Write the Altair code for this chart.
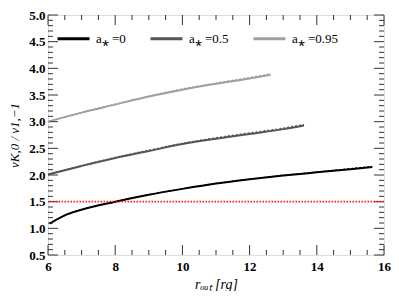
import altair as alt
import pandas as pd

# a*=0 (black)
x0 = [6.05, 6.6, 7.0, 8.0, 9.0, 10.0, 11.0, 12.0, 13.0, 14.0, 15.0, 15.65]
y0 = [1.09, 1.27, 1.35, 1.50, 1.63, 1.74, 1.84, 1.92, 1.99, 2.05, 2.11, 2.15]
y0d = [1.09, 1.27, 1.35, 1.50, 1.63, 1.74, 1.84, 1.92, 1.995, 2.055, 2.12, 2.16]
# a*=0.5 (dark gray)
x1 = [6.0, 7.0, 8.0, 9.0, 10.0, 11.0, 12.0, 13.0, 13.62]
y1 = [2.01, 2.17, 2.32, 2.45, 2.58, 2.68, 2.77, 2.86, 2.93]
y1d = [2.01, 2.175, 2.33, 2.465, 2.595, 2.70, 2.79, 2.88, 2.95]
# a*=0.95 (light gray)
x2 = [6.0, 7.0, 8.0, 9.0, 10.0, 11.0, 12.0, 12.63]
y2 = [3.00, 3.17, 3.32, 3.47, 3.60, 3.71, 3.81, 3.88]
y2d = [3.00, 3.175, 3.33, 3.48, 3.615, 3.725, 3.83, 3.90]

labels = ["a⁎ =0", "a⁎ =0.5", "a⁎ =0.95"]
colors = ["#000000", "#555555", "#a0a0a0"]

ref_level = [1.5]

x_major = [6, 8, 10, 12, 14, 16]
x_minor = [6.5, 7, 7.5, 8.5, 9, 9.5, 10.5, 11, 11.5, 12.5, 13, 13.5, 14.5, 15, 15.5]
y_major = [0.5, 1.0, 1.5, 2.0, 2.5, 3.0, 3.5, 4.0, 4.5, 5.0]
y_minor = [round(0.5 + 0.1 * i, 1) for i in range(46) if i % 5 != 0]

W, H = 336, 240
FONT = "Liberation Serif"

xs = alt.Scale(domain=[6, 16], nice=False, zero=False)
ys = alt.Scale(domain=[0.5, 5.0], nice=False, zero=False)

rows = []
for lab, xv, yv in zip(labels, [x0, x1, x2], [y0, y1, y2]):
    for a, b in zip(xv, yv):
        rows.append({"series": lab, "r": a, "v": b})
df = pd.DataFrame(rows)

x_axis = alt.Axis(values=x_major, format="d", ticks=False, domain=False, grid=False,
                  labelOverlap=False, labelFlush=False,
                  labelFont=FONT, labelFontWeight="bold", labelFontSize=13, labelColor="#000",
                  labelPadding=5, title="rₒᵤₜ [rg]", titleFont=FONT, titleFontStyle="italic",
                  titleFontWeight="normal", titleFontSize=14, titleColor="#000",
                  titleY=29, titleBaseline="middle")
y_axis = alt.Axis(values=y_major, format=".1f", ticks=False, domain=False, grid=False,
                  labelOverlap=False, labelFlush=False,
                  labelFont=FONT, labelFontWeight="bold", labelFontSize=13, labelColor="#000",
                  labelPadding=3, title="νK,0 / ν1,−1", titleFont=FONT, titleFontStyle="italic",
                  titleFontWeight="normal", titleFontSize=13, titleColor="#000",
                  titleX=-34, titleY=H / 2, titleAngle=270, titleAlign="center",
                  titleBaseline="middle")

X = lambda f: alt.X(f, scale=xs, axis=x_axis)
Y = lambda f: alt.Y(f, scale=ys, axis=y_axis)

solid = alt.Chart(df).mark_line(strokeWidth=2.0, interpolate="monotone").encode(
    x=X("r:Q"),
    y=Y("v:Q"),
    color=alt.Color("series:N", scale=alt.Scale(domain=labels, range=colors),
                    sort=labels,
                    legend=alt.Legend(title=None, orient="none", legendX=8, legendY=6,
                                      direction="horizontal", columns=3, symbolType="stroke",
                                      symbolSize=1024, symbolStrokeWidth=3, columnPadding=18,
                                      labelFont=FONT, labelFontSize=13, labelColor="#000",
                                      labelOffset=5)),
)

dashed_layers = []
for lab, xv, yd, c in zip(labels, [x0, x1, x2], [y0d, y1d, y2d], colors):
    ddf = pd.DataFrame({"r": xv, "v": yd})
    dashed_layers.append(
        alt.Chart(ddf).mark_line(color=c, strokeWidth=1.2, strokeDash=[2, 2],
                                 interpolate="monotone").encode(
            x=X("r:Q"), y=Y("v:Q"))
    )

red = alt.Chart(pd.DataFrame({"v": ref_level})).mark_rule(
    color="#ff1a1a", strokeWidth=1.6, strokeDash=[1.5, 1.5]).encode(y=Y("v:Q"))

tick_color = "#333333"
def xticks(vals, length):
    d = pd.DataFrame({"r": vals})
    b = alt.Chart(d).mark_rule(color=tick_color, strokeWidth=1).encode(
        x=X("r:Q"), y=alt.value(H), y2=alt.value(H - length))
    t = alt.Chart(d).mark_rule(color=tick_color, strokeWidth=1).encode(
        x=X("r:Q"), y=alt.value(0), y2=alt.value(length))
    return [b, t]

def yticks(vals, length):
    d = pd.DataFrame({"v": vals})
    l = alt.Chart(d).mark_rule(color=tick_color, strokeWidth=1).encode(
        y=Y("v:Q"), x=alt.value(0), x2=alt.value(length))
    r = alt.Chart(d).mark_rule(color=tick_color, strokeWidth=1).encode(
        y=Y("v:Q"), x=alt.value(W), x2=alt.value(W - length))
    return [l, r]

ticks = xticks(x_major, 10) + xticks(x_minor, 5) + yticks(y_major, 10) + yticks(y_minor, 5)

chart = alt.layer(solid, *ticks, red, *dashed_layers).properties(
    width=W, height=H,
    autosize=alt.AutoSizeParams(type="none"),
    padding={"left": 40, "top": 7, "right": 7, "bottom": 36},
).configure_view(stroke="#000000", strokeWidth=1.2).configure(background="white")

chart.save("out.html", embed_options={"renderer": "svg", "actions": False})
